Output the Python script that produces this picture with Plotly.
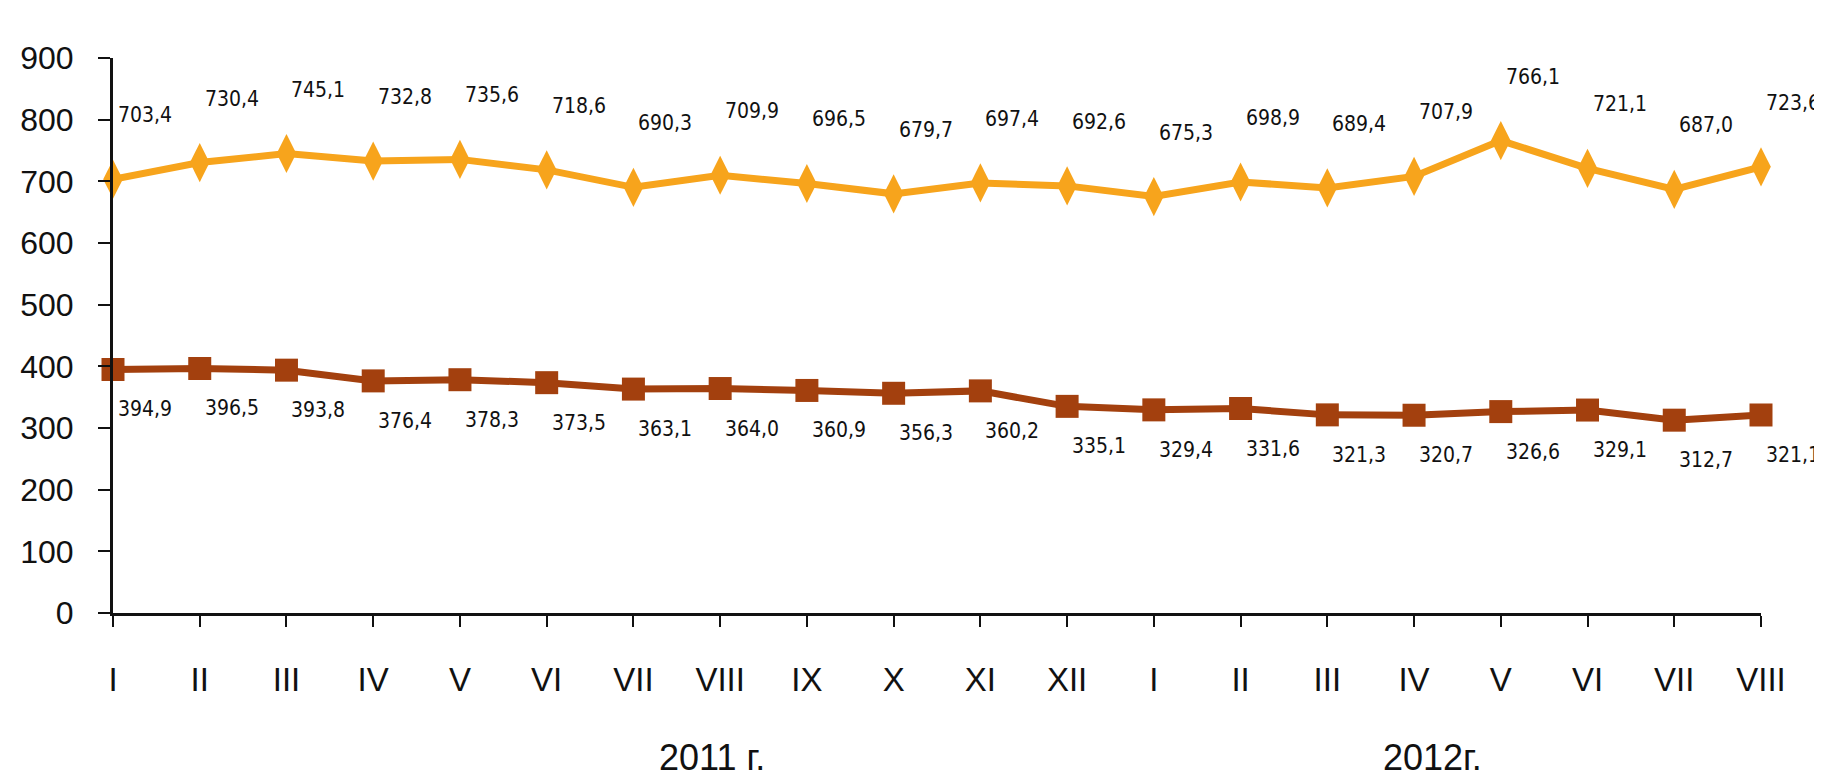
import plotly.graph_objects as go

months = ["I", "II", "III", "IV", "V", "VI", "VII", "VIII", "IX", "X", "XI", "XII",
          "I", "II", "III", "IV", "V", "VI", "VII", "VIII"]
upper = [703.4, 730.4, 745.1, 732.8, 735.6, 718.6, 690.3, 709.9, 696.5, 679.7, 697.4, 692.6,
         675.3, 698.9, 689.4, 707.9, 766.1, 721.1, 687.0, 723.6]
lower = [394.9, 396.5, 393.8, 376.4, 378.3, 373.5, 363.1, 364.0, 360.9, 356.3, 360.2, 335.1,
         329.4, 331.6, 321.3, 320.7, 326.6, 329.1, 312.7, 321.1]
years = ["2011 г.", "2012г."]
y_ticks = [0, 100, 200, 300, 400, 500, 600, 700, 800, 900]

idx = list(range(len(months)))

def fmt(v):
    return f"{v:.1f}".replace(".", ",")

ORANGE = "#F7A41C"
BROWN = "#A3400E"
LABEL_FONT = dict(family="DejaVu Sans Condensed, DejaVu Sans, sans-serif", size=21, color="#111111")
AXIS_FAMILY = "Liberation Sans Narrow, Liberation Sans, Arial, sans-serif"

fig = go.Figure()
fig.add_trace(go.Scatter(
    x=idx, y=upper, mode="lines+markers",
    line=dict(color=ORANGE, width=7),
    marker=dict(symbol="diamond-tall", size=28, color=ORANGE),
    cliponaxis=False, showlegend=False, hoverinfo="skip"))
fig.add_trace(go.Scatter(
    x=idx, y=lower, mode="lines+markers",
    line=dict(color=BROWN, width=7),
    marker=dict(symbol="square", size=23, color=BROWN),
    cliponaxis=False, showlegend=False, hoverinfo="skip"))

annotations = []
for i, v in zip(idx, upper):
    annotations.append(dict(x=i, y=v, xref="x", yref="y", text=fmt(v), showarrow=False,
                            xanchor="left", xshift=3, yshift=64, font=LABEL_FONT))
for i, v in zip(idx, lower):
    annotations.append(dict(x=i, y=v, xref="x", yref="y", text=fmt(v), showarrow=False,
                            xanchor="left", xshift=3, yshift=-40, font=LABEL_FONT))

year_pos = [0.330, 0.832]
for t, px in zip(years, year_pos):
    annotations.append(dict(x=px, y=0, xref="paper", yref="paper", yshift=-144,
                            text=t, showarrow=False,
                            font=dict(family=AXIS_FAMILY, size=36, color="#111111"),
                            yanchor="middle"))

fig.update_layout(
    width=1822, height=781,
    margin=dict(l=105, r=69, t=50, b=176),
    paper_bgcolor="white", plot_bgcolor="white",
    annotations=annotations,
    xaxis=dict(range=[0, len(months) - 1], tickmode="array", tickvals=idx, ticktext=months,
               showgrid=False, zeroline=False, showline=True, linecolor="#111111", linewidth=3,
               ticks="outside", ticklen=11, tickwidth=2, tickcolor="#111111",
               tickfont=dict(family=AXIS_FAMILY, size=33, color="#111111"),
               ticklabelstandoff=24),
    yaxis=dict(range=[0, 900], tickmode="array", tickvals=y_ticks,
               showgrid=False, zeroline=False, showline=True, linecolor="#111111", linewidth=3,
               ticks="outside", ticklen=12, tickwidth=2, tickcolor="#111111",
               tickfont=dict(family=AXIS_FAMILY, size=32, color="#111111"),
               ticklabelstandoff=18),
)

fig.write_html("out.html")
